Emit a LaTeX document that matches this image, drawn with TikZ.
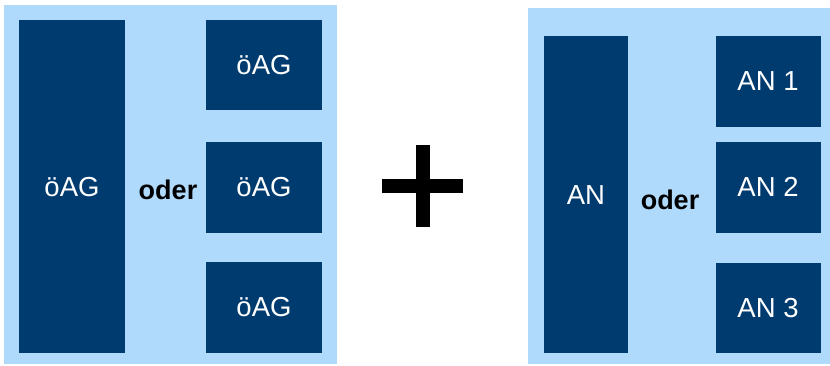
\documentclass[tikz,border=0pt]{standalone}
\usepackage{fontspec}
\setmainfont{Liberation Sans}
\definecolor{panelblue}{RGB}{175,218,252}
\definecolor{boxblue}{RGB}{0,59,111}
\begin{document}
\begin{tikzpicture}[x=1pt,y=-1pt,
  panel/.style={fill=panelblue,draw=none},
  block/.style={fill=boxblue,draw=none},
  lbl/.style={text=white,font=\fontsize{27.5}{30}\selectfont},
  orword/.style={text=black,font=\fontsize{27}{30}\selectfont\bfseries}]
\useasboundingbox (0,0) rectangle (830,365);
% left group
\fill[panel] (4,5) rectangle (337,364);
\fill[block] (19,20) rectangle (125,353);
\fill[block] (206,20) rectangle (322,110);
\fill[block] (206,142) rectangle (322,233);
\fill[block] (206,262) rectangle (322,353);
\node[lbl] (l0) at (72,187) {öAG};
\node[lbl] (l1) at (264,65) {öAG};
\node[lbl] (l2) at (264,187) {öAG};
\node[lbl] (l3) at (264,307) {öAG};
\node[orword] (lor) at (168,190) {oder};
% plus sign
\fill[black] (416,145) rectangle (430,227);
\fill[black] (382,179) rectangle (463,193);
% right group
\fill[panel] (528,8) rectangle (830,364);
\fill[block] (544,36) rectangle (628,353);
\fill[block] (716,36) rectangle (821,127);
\fill[block] (716,142) rectangle (821,233);
\fill[block] (716,263) rectangle (821,353);
\node[lbl] (r0) at (586,195) {AN};
\node[lbl] (r1) at (768,81) {AN 1};
\node[lbl] (r2) at (768,187) {AN 2};
\node[lbl] (r3) at (768,308) {AN 3};
\node[orword] (ror) at (670,200) {oder};
\end{tikzpicture}
\end{document}
